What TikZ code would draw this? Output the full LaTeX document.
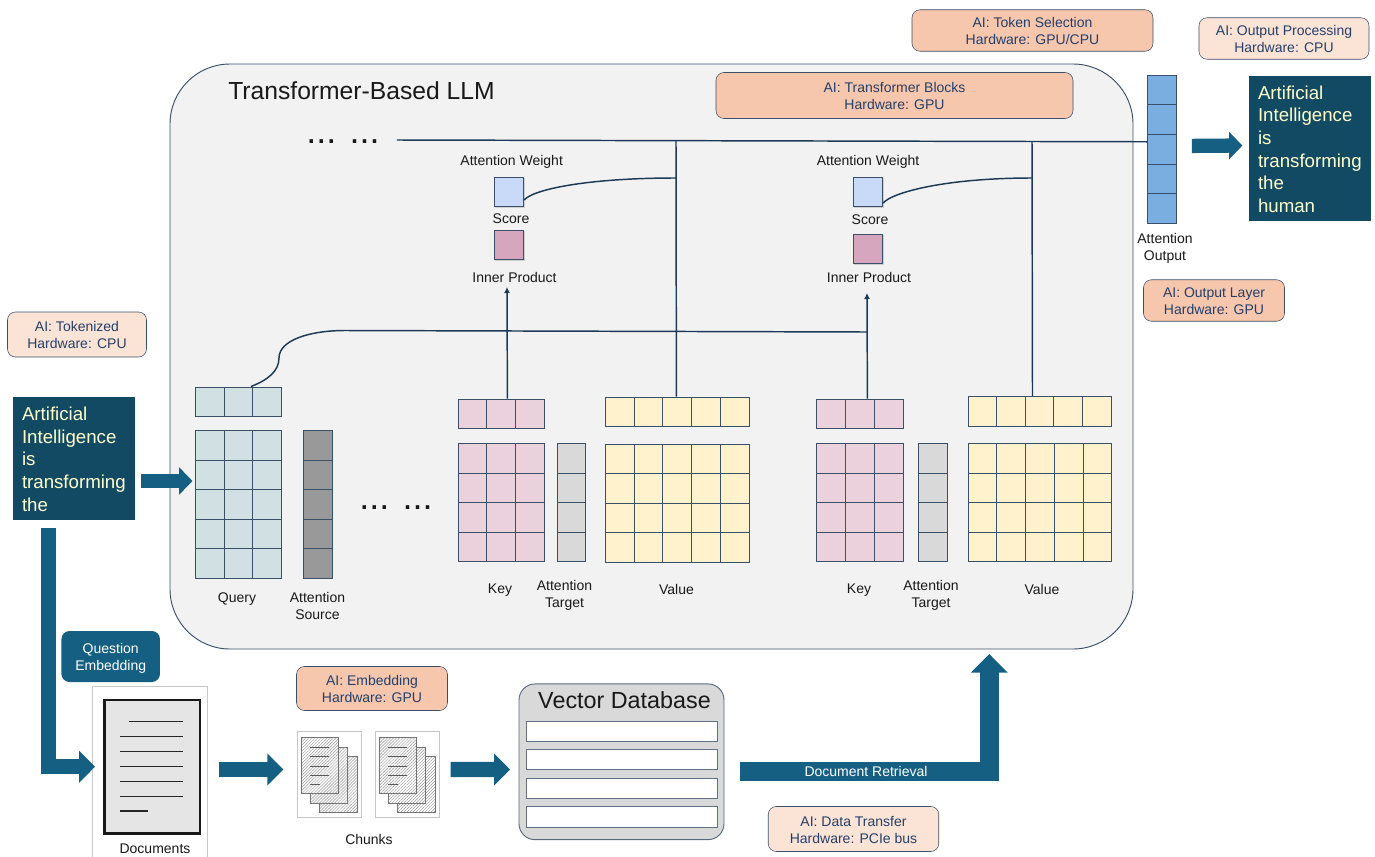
\documentclass[tikz,border=0pt]{standalone}
\usepackage{fontspec}
\usepackage{xcolor}
\usepackage{tikz}
\usetikzlibrary{positioning, arrows.meta, patterns.meta, shadows}
\setmainfont{Liberation Sans}

\definecolor{lineblue}{HTML}{3A4F68}
\definecolor{wireblue}{HTML}{1C3A57}
\definecolor{notetext}{HTML}{24406A}
\definecolor{flowblue}{HTML}{156082}
\definecolor{termblue}{HTML}{124A63}
\definecolor{termtext}{HTML}{FFFFCC}
\definecolor{notedark}{HTML}{F6C6AD}
\definecolor{notelight}{HTML}{FBE3D6}
\definecolor{queryfill}{HTML}{D0E0E3}
\definecolor{keyfill}{HTML}{EAD1DC}
\definecolor{valuefill}{HTML}{FFF2CC}
\definecolor{scorefill}{HTML}{C9DAF8}
\definecolor{innerfill}{HTML}{D5A6BD}
\definecolor{outfill}{HTML}{7BAEE0}

\begin{document}
\begin{tikzpicture}[
        x=0.75pt, y=-0.75pt,
        every node/.style={font=\fontsize{10.5}{12.75}\selectfont},
        boxsize/.style 2 args={minimum width=#1*0.75pt, minimum height=#2*0.75pt},
        textlabel/.style={text=black!90, align=center, inner sep=0pt},
        note/.style={rectangle, rounded corners=6pt, draw=lineblue, text=notetext, align=center, inner sep=0pt},
        notehot/.style={note, fill=notedark},
        notecool/.style={note, fill=notelight},
        term/.style={rectangle, fill=termblue, text=termtext, font=\fontsize{14}{17}\selectfont, align=left, inner xsep=6.75pt, inner ysep=0pt, text width=78pt},
        gridcell/.style={rectangle, draw=lineblue, line width=0.6pt, inner sep=0pt, anchor=north west, minimum width=21.6pt, minimum height=22.2pt},
        squarebox/.style={rectangle, draw=lineblue, line width=0.6pt, inner sep=0pt, minimum size=22.2pt, drop shadow={shadow xshift=0.6pt, shadow yshift=-0.6pt, opacity=0.3}},
        slot/.style={rectangle, draw=lineblue!80, fill=white, line width=0.6pt, inner sep=0pt, boxsize={191}{20.3}},
        wire/.style={draw=wireblue, line width=1.1pt},
        wiretip/.style={wire, -{Latex[length=4.5pt, width=4.5pt]}},
        flowsmall/.style={draw=flowblue, line width=10.7pt, -{Triangle[length=10pt, width=20pt]}},
        flowmid/.style={draw=flowblue, line width=11.6pt, -{Triangle[length=12pt, width=23.4pt]}},
        flowbig/.style={draw=flowblue, line width=14.2pt, -{Triangle[length=14pt, width=26.8pt]}},
        sheet/.style={rectangle, draw=black!55, line width=0.7pt, inner sep=0pt, boxsize={37.5}{56}, preaction={fill=white}, pattern={Lines[angle=45, distance=1.6pt, line width=0.35pt]}, pattern color=black!40},
        frame/.style={rectangle, draw=black!22, fill=white, line width=0.6pt, inner sep=0pt}
    ]
        \useasboundingbox (0,0) rectangle (1375,857);

        % Transformer box
        \node[rectangle, rounded corners=45pt, draw=lineblue, fill=black!5, line width=0.7pt, boxsize={963}{585}] (llmbox) at (651.5,356.5) {};
        \node[textlabel, font=\fontsize{18.5}{22}\selectfont, anchor=west] (llmtitle) at (228,90.5) {Transformer-Based LLM};
        \node[textlabel, font=\fontsize{27}{30}\selectfont, anchor=base] (dotstop) at (343,143.5) {... ...};
        \node[textlabel, font=\fontsize{27}{30}\selectfont, anchor=base] (dotsmid) at (396,509.5) {... ...};

        % Hardware notes
        \node[notehot, boxsize={241}{41.5}] (noteselect) at (1032.5,30.5) {AI: Token Selection\\Hardware: GPU/CPU};
        \node[notehot, boxsize={357}{46}] (noteblocks) at (894.5,95.5) {AI: Transformer Blocks\\Hardware: GPU};
        \node[notecool, boxsize={170}{41.5}] (noteoutproc) at (1284,38.5) {AI: Output Processing\\Hardware: CPU};
        \node[notehot, boxsize={141}{41.5}] (noteoutlayer) at (1214,300.5) {\rule{0pt}{9pt}AI: Output Layer\\Hardware: GPU};
        \node[notecool, boxsize={139}{45}] (notetoken) at (77,334.5) {AI: Tokenized\\Hardware: CPU};
        \node[notehot, boxsize={151}{44}] (noteembed) at (372,688.5) {AI: Embedding\\Hardware: GPU};
        \node[notecool, boxsize={170.5}{45}] (notetransfer) at (853.5,829) {\rule{0pt}{9.6pt}AI: Data Transfer\\Hardware: PCIe bus};

        % Query and source
        \foreach \col in {0,1,2} \node[gridcell, fill=queryfill] (qrow-\col) at (195+\col*28.7,386.5) {};
        \foreach \col in {0,1,2} \foreach \row in {0,...,4} \node[gridcell, fill=queryfill] (qmat-\col-\row) at (195+\col*28.7,430+\row*29.6) {};
        \foreach \row in {0,...,4} \node[gridcell, fill=black!40] (srccol-\row) at (303.3,430+\row*29.6) {};
        \node[textlabel] (qlabel) at (237,599) {Query};
        \node[textlabel] (srclabel) at (317.5,606) {Attention\\Source};

        % First key and value
        \foreach \col in {0,1,2} \node[gridcell, fill=keyfill] (karow-\col) at (457.5+\col*28.7,398.7) {};
        \foreach \col in {0,1,2} \foreach \row in {0,...,3} \node[gridcell, fill=keyfill] (kamat-\col-\row) at (457.5+\col*28.7,443+\row*29.6) {};
        \foreach \row in {0,...,3} \node[gridcell, fill=black!15] (tacol-\row) at (556.5,443+\row*29.6) {};
        \foreach \col in {0,...,4} \node[gridcell, fill=valuefill] (varow-\col) at (605+\col*28.7,396.5) {};
        \foreach \col in {0,...,4} \foreach \row in {0,...,3} \node[gridcell, fill=valuefill] (vamat-\col-\row) at (605+\col*28.7,443.5+\row*29.6) {};
        \node[textlabel] (kalabel) at (500,590) {Key};
        \node[textlabel] (talabel) at (564.5,595) {Attention\\Target};
        \node[textlabel] (valabel) at (676.5,589) {Value};

        % Second key and value
        \foreach \col in {0,1,2} \node[gridcell, fill=keyfill] (kbrow-\col) at (816.3+\col*28.7,398.5) {};
        \foreach \col in {0,1,2} \foreach \row in {0,...,3} \node[gridcell, fill=keyfill] (kbmat-\col-\row) at (816.3+\col*28.7,443.3+\row*29.5) {};
        \foreach \row in {0,...,3} \node[gridcell, fill=black!15] (tbcol-\row) at (918.2,443+\row*29.5) {};
        \foreach \col in {0,...,4} \node[gridcell, fill=valuefill] (vbrow-\col) at (967.5+\col*28.6,396) {};
        \foreach \col in {0,...,4} \foreach \row in {0,...,3} \node[gridcell, fill=valuefill] (vbmat-\col-\row) at (967.7+\col*28.7,443+\row*29.5) {};
        \node[textlabel] (kblabel) at (859,590) {Key};
        \node[textlabel] (tblabel) at (931,595) {Attention\\Target};
        \node[textlabel] (vblabel) at (1042,589) {Value};

        % Attention output
        \foreach \row in {0,...,4} \node[gridcell, fill=outfill] (outcol-\row) at (1147.3,74.5+\row*29.7) {};
        \node[textlabel] (outlabel) at (1165,248) {Attention\\Output};

        % Score columns
        \node[squarebox, fill=scorefill] (scorea) at (509,192) {};
        \node[textlabel, above=5.8pt of scorea, xshift=2pt] (weighta) {Attention Weight};
        \node[textlabel] (scorealabel) at (511,219) {Score};
        \node[squarebox, fill=innerfill] (innera) at (509,245) {};
        \node[textlabel] (inneralabel) at (514.5,277) {Inner Product};
        \node[squarebox, fill=scorefill] (scoreb) at (868,192) {};
        \node[textlabel, above=5.8pt of scoreb] (weightb) {Attention Weight};
        \node[textlabel] (scoreblabel) at (870,220) {Score};
        \node[squarebox, fill=innerfill] (innerb) at (868,249) {};
        \node[textlabel] (innerblabel) at (869,277) {Inner Product};

        % Wire joints
        \coordinate (joina) at (676,140.7);
        \coordinate (joinb) at (1032,141);
        \coordinate (brancha) at (676,178);
        \coordinate (branchb) at (1032,178);
        \coordinate (querybend) at (279,358);
        \coordinate (crossstart) at (345,330.5);
        \coordinate (crossend) at (867,332);
        \coordinate (tipa) at (507,287);
        \coordinate (tipb) at (867,293);

        % Wires
        \draw[wire] ([shift={(17,-3.5)}]dotstop.base east) -- ([yshift=5.5pt]outcol-2.west);
        \draw[wire] ([xshift=-0.6pt]varow-2.north) -- (joina);
        \draw[wire] ([xshift=-5.25pt]vbrow-2.north) -- (joinb);
        \draw[wire] ([shift={(0,8)}]scorea.east) .. controls ([shift={(8,-2)}]scorea.east) and ([shift={(60,-14)}]scorea.east) .. (brancha);
        \draw[wire] ([shift={(0,11)}]scoreb.east) .. controls ([shift={(8,1)}]scoreb.east) and ([shift={(60,-14)}]scoreb.east) .. (branchb);
        \draw[wire] ([xshift=-1.8pt]qrow-1.north east) .. controls (268,380) and (279,371) .. (querybend) .. controls (279,340) and (310,330.5) .. (crossstart) -- (crossend);
        \draw[wiretip] ([xshift=4.8pt]karow-1.north) -- (tipa);
        \draw[wiretip] ([xshift=5.7pt]kbrow-1.north) -- (tipb);

        % Input and output text
        \node[term, boxsize={122}{123}] (inputtext) at (74,458.5) {\rule{0pt}{10.9pt}Artificial\\Intelligence\\is\\transforming\\the};
        \node[term, boxsize={122}{145}] (outputtext) at (1310,148.5) {\rule{0pt}{10.9pt}Artificial\\Intelligence\\is\\transforming\\the\\human};

        % Documents
        \node[frame, boxsize={115}{172}] (docframe) at (150,772.5) {};
        \node[rectangle, draw=black!90, fill=black!10, line width=1.8pt, inner sep=0pt, boxsize={95.5}{133.5}] (docpage) at (152.2,766.7) {};
        \foreach \ly/\lx/\lr in {721.7/128.7/183.3, 736.7/120/183.3, 751.5/120/183.3, 766.3/120/183.3, 781.3/120/183.3, 796.4/120/183.3, 811/120/148}
            \draw[draw=black!85, line width=1.1pt] (\lx,\ly) -- (\lr,\ly);
        \node[textlabel] (doclabel) at (155,849) {Documents};

        % Chunks
        \foreach \dx/\cname in {0/a,78/b} {
            \node[frame, boxsize={64.5}{86.4}] (chunk\cname) at (329.5+\dx,774.5) {};
            \node[sheet] (sheet\cname3) at (338.5+\dx,784.3) {};
            \node[sheet] (sheet\cname2) at (329+\dx,775) {};
            \node[sheet] (sheet\cname1) at (319.8+\dx,765.7) {};
            \foreach \ly/\lr in {747.3/329, 756.5/329, 766/329, 775/329, 784/320}
                \draw[draw=black!65, line width=0.6pt] (310+\dx,\ly) -- (\lr+\dx,\ly);
        }
        \node[textlabel] (chunklabel) at (369,839) {Chunks};

        % Vector database
        \node[rectangle, rounded corners=12pt, draw=lineblue!85, fill=black!15, line width=0.7pt, boxsize={205}{155.7}] (vectordb) at (621.5,761.8) {};
        \node[textlabel, font=\fontsize{17.5}{20}\selectfont] (dbtitle) at (624.5,700) {Vector Database};
        \foreach \sl/\sy in {1/731.2, 2/759.7, 3/788.5, 4/817} \node[slot] (slot\sl) at (622,\sy) {};

        % Flow arrows
        \coordinate (queryin) at (192.5,481);
        \node[rectangle, rounded corners=6pt, fill=flowblue, text=white, align=center, inner sep=0pt, boxsize={98.5}{51}] (questionbox) at (110.7,656.5) {\rule{0pt}{10.6pt}Question\\Embedding};
        \draw[flowsmall] ([shift={(6,22.5)}]inputtext.east) -- (queryin);
        \draw[flowmid] ([shift={(-25.7,8)}]inputtext.south) |- ([shift={(-8.2,0)}]docpage.west);
        \draw[flowmid] ([shift={(11.5,-3)}]docframe.east) -- ([shift={(-13.5,-5)}]chunka.west);
        \draw[flowmid] ([shift={(10.5,-5)}]chunkb.east) -- ([shift={(-8.5,7.7)}]vectordb.west);
        \draw[flowsmall] ([shift={(15,-3.2)}]outcol-2.east) -- ([shift={(-6.3,-3)}]outputtext.west);
        \draw[flowbig] ([shift={(16,10)}]vectordb.east) -| ([shift={(337.8,4.5)}]llmbox.south);
        \node[text=white, inner sep=0pt] (retrieval) at (866,771) {Document Retrieval};
    \end{tikzpicture}
\end{document}
